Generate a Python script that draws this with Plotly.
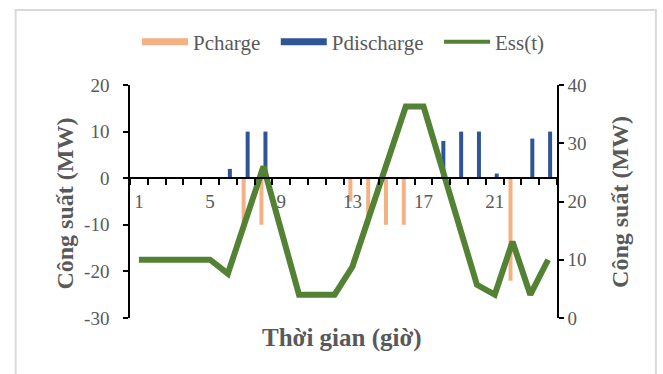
import plotly.graph_objects as go

hours = list(range(1, 25))
p_charge = [0, 0, 0, 0, 0, 0, -10, -10, 0, 0, 0, 0, -5, -10, -10, -10, 0, 0, 0, 0, 0, -22, 0, 0]
p_discharge = [0, 0, 0, 0, 0, 2, 10, 10, 0, 0, 0, 0, 0, 0, 0, 0, 0, 8, 10, 10, 1, 0, 8.5, 10]
ess = [10, 10, 10, 10, 10, 7.6, 16.8, 26, 15, 4, 4, 4, 8.8, 18, 27.2, 36.3, 36.3, 26.1, 15.9, 5.7, 4, 13.1, 4, 10]
x_tick_vals = [1, 5, 9, 13, 17, 21]
x_tick_text = ["1", "5", "9", "13", "17", "21"]
y_left_vals = [-30, -20, -10, 0, 10, 20]
y_left_text = ["-30", "-20", "-10", "0", "10", "20"]
y_right_vals = [0, 10, 20, 30, 40]
y_right_text = ["0", "10", "20", "30", "40"]

ORANGE = "#F4B183"
BLUE = "#2F5597"
GREEN = "#548235"
GRAY = "#595959"
FONT = "Liberation Serif"
TICK = 19
NB = "\u00a0\u00a0"

fig = go.Figure()
fig.add_trace(go.Bar(x=hours, y=p_charge, name="Pcharge", marker_color=ORANGE,
                     marker_line_width=0, showlegend=False, yaxis="y"))
fig.add_trace(go.Bar(x=hours, y=p_discharge, name="Pdischarge", marker_color=BLUE,
                     marker_line_width=0, showlegend=False, yaxis="y"))
fig.add_trace(go.Scatter(x=hours, y=ess, name="Ess(t)", mode="lines",
                         line=dict(color=GREEN, width=6), showlegend=False, yaxis="y2"))
# legend entries
fig.add_trace(go.Scatter(x=[None], y=[None], name="Pcharge" + NB, mode="lines",
                         line=dict(color=ORANGE, width=7), yaxis="y2"))
fig.add_trace(go.Scatter(x=[None], y=[None], name="Pdischarge" + NB, mode="lines",
                         line=dict(color=BLUE, width=7), yaxis="y2"))
fig.add_trace(go.Scatter(x=[None], y=[None], name="Ess(t)", mode="lines",
                         line=dict(color=GREEN, width=4), yaxis="y2"))

L, R, T, B = 129.5, 106, 85, 56
W, H = 663, 374
pw, ph = W - L - R, H - T - B

def px(xp):
    return (xp - L) / pw

def py(yp):
    return (H - B - yp) / ph

fig.update_layout(
    width=W, height=H,
    margin=dict(l=L, r=R, t=T, b=B, pad=0),
    paper_bgcolor="white", plot_bgcolor="white",
    barmode="group", bargap=0.55, bargroupgap=0,
    font=dict(family=FONT, color=GRAY, size=TICK),
    xaxis=dict(range=[0.5, 24.5], anchor="free", position=0.6,
               tickmode="array", tickvals=x_tick_vals, ticktext=x_tick_text,
               ticks="", showgrid=False, zeroline=False,
               showline=True, linecolor="black", linewidth=1.5,
               ticklabelstandoff=6,
               tickfont=dict(family=FONT, color=GRAY, size=TICK),
               minor=dict(tickmode="linear", tick0=0.5, dtick=1, ticks="outside",
                          ticklen=6, tickwidth=1.5, tickcolor="black", showgrid=False)),
    yaxis=dict(range=[-30, 20], tickmode="array", tickvals=y_left_vals, ticktext=y_left_text,
               ticks="outside", ticklen=5,
               tickwidth=1.5, tickcolor="black", showline=True, linecolor="black",
               linewidth=1.5, showgrid=False, zeroline=False, ticklabelstandoff=10,
               tickfont=dict(family=FONT, color=GRAY, size=TICK)),
    yaxis2=dict(range=[0, 40], tickmode="array", tickvals=y_right_vals, ticktext=y_right_text,
                overlaying="y", side="right", tickprefix="\u00a0\u00a0\u00a0\u00a0\u00a0",
                ticks="outside", ticklen=5, tickwidth=1.5, tickcolor="black",
                showline=True, linecolor="black", linewidth=1.5, showgrid=False,
                zeroline=False,
                tickfont=dict(family=FONT, color=GRAY, size=TICK)),
    legend=dict(orientation="h", x=0.5, xanchor="center", y=py(42), yanchor="middle",
                font=dict(family=FONT, color=GRAY, size=21), itemwidth=46,
                bgcolor="rgba(0,0,0,0)", tracegroupgap=0),
    showlegend=True,
)

fig.add_annotation(text="<b>Công suất (MW)</b>", x=px(64), y=py(204), xref="paper", yref="paper",
                   xanchor="center", yanchor="middle",
                   textangle=-90, showarrow=False, font=dict(family=FONT, color=GRAY, size=24))
fig.add_annotation(text="<b>Công suất (MW)</b>", x=px(620), y=py(202), xref="paper", yref="paper",
                   xanchor="center", yanchor="middle",
                   textangle=-90, showarrow=False, font=dict(family=FONT, color=GRAY, size=24))
fig.add_annotation(text="<b>Thời gian (giờ)</b>", x=px(342), y=py(338), xref="paper", yref="paper",
                   xanchor="center", yanchor="middle",
                   showarrow=False, font=dict(family=FONT, color=GRAY, size=25))

fig.add_shape(type="rect", xref="paper", yref="paper",
              x0=px(15), x1=px(656), y0=py(390), y1=py(10),
              line=dict(color="#d9d9d9", width=2), layer="below")

fig.write_html("out.html")
